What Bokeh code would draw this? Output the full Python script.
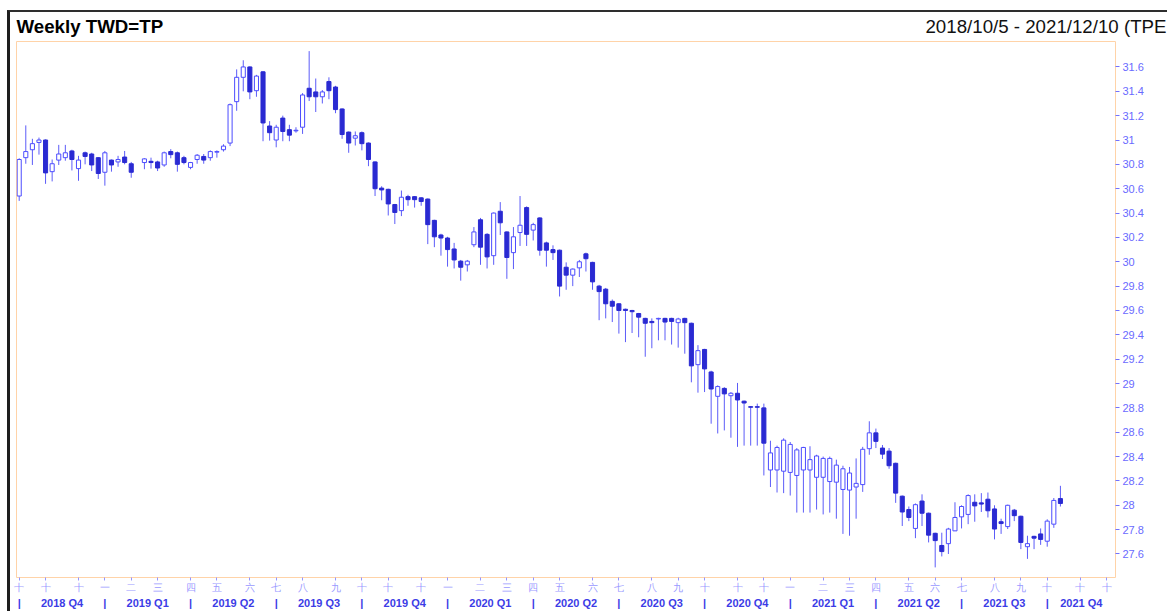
import pandas as pd
from bokeh.plotting import figure
from bokeh.layouts import column
from bokeh.models import Range1d, LinearAxis, FixedTicker, ColumnDataSource
from bokeh.core.properties import value
from bokeh.embed import file_html
from bokeh.resources import INLINE

# ---------------- data ----------------
START = "2018-10-05"
END_DATA = "2021-10-15"
END_RANGE = "2021-12-10"
HOLIDAY_WEEKS = ["2019-02-08"]

opens = [30.54, 30.855, 30.92, 30.98, 31.00, 30.74, 30.835, 30.855, 30.91, 30.765,
         30.895, 30.885, 30.855, 30.735, 30.835, 30.82, 30.86, 30.805,
         30.815, 30.825, 30.82, 30.795, 30.905, 30.895, 30.855, 30.775, 30.84, 30.865,
         30.855, 30.90, 30.92, 30.975, 31.315, 31.515, 31.60, 31.405, 31.56, 31.115,
         31.00, 31.18, 31.085, 31.075, 31.105, 31.425, 31.395, 31.355, 31.48, 31.435,
         31.255, 31.065, 31.015, 31.06, 30.975, 30.82, 30.605, 30.595, 30.47, 30.42,
         30.535, 30.535, 30.525, 30.515, 30.34, 30.22, 30.195, 30.105, 30.005, 29.975,
         30.14, 30.345, 30.225, 30.05, 30.415, 30.245, 30.075, 30.24, 30.445, 30.26,
         30.36, 30.155, 30.10, 30.095, 29.955, 29.89, 29.95, 30.065, 29.995, 29.80,
         29.775, 29.675, 29.655, 29.61, 29.60, 29.575, 29.535, 29.51, 29.53, 29.535,
         29.535, 29.50, 29.535, 29.495, 29.155, 29.28, 29.095, 28.895, 28.96, 28.90,
         28.92, 28.855, 28.81, 28.81, 28.80, 28.29, 28.29, 28.28, 28.27, 28.245,
         28.29, 28.29, 28.23, 28.23, 28.195, 28.19, 28.13, 28.125, 28.15, 28.17,
         28.465, 28.595, 28.47, 28.445, 28.345, 28.075, 27.965, 27.81, 28.035, 27.935,
         27.77, 27.67, 27.685, 27.79, 27.905, 27.925, 28.025, 28.02, 28.05, 27.97,
         27.865, 27.825, 27.96, 27.91, 27.66, 27.745, 27.765, 27.705, 27.845, 28.055]
highs = [30.85, 31.12, 31.01, 31.02, 31.005, 30.84, 30.96, 30.96, 30.92, 30.87,
         30.905, 30.895, 30.86, 30.91, 30.84, 30.87, 30.91, 30.82,
         30.85, 30.855, 30.83, 30.905, 30.925, 30.905, 30.87, 30.82, 30.885, 30.885,
         30.915, 30.915, 30.965, 31.30, 31.58, 31.655, 31.605, 31.535, 31.565, 31.155,
         31.125, 31.20, 31.125, 31.105, 31.385, 31.73, 31.505, 31.41, 31.515, 31.445,
         31.26, 31.07, 31.07, 31.07, 30.98, 30.825, 30.62, 30.60, 30.475, 30.585,
         30.55, 30.54, 30.53, 30.52, 30.345, 30.23, 30.205, 30.155, 30.015, 30.015,
         30.285, 30.36, 30.235, 30.405, 30.49, 30.25, 30.285, 30.54, 30.455, 30.32,
         30.365, 30.165, 30.135, 30.10, 29.995, 29.945, 30.015, 30.075, 30.00, 29.81,
         29.785, 29.69, 29.66, 29.615, 29.605, 29.58, 29.54, 29.535, 29.54, 29.54,
         29.54, 29.54, 29.54, 29.50, 29.315, 29.285, 29.105, 28.985, 28.97, 28.93,
         29.005, 28.86, 28.815, 28.835, 28.835, 28.53, 28.49, 28.55, 28.52, 28.47,
         28.48, 28.485, 28.415, 28.40, 28.40, 28.375, 28.325, 28.315, 28.385, 28.48,
         28.69, 28.63, 28.495, 28.47, 28.35, 28.08, 27.99, 28.015, 28.09, 27.94,
         27.775, 27.775, 27.815, 28.025, 28.00, 28.09, 28.09, 28.10, 28.105, 28.00,
         27.89, 28.005, 27.97, 27.915, 27.75, 27.75, 27.81, 27.885, 28.06, 28.16]
lows = [30.50, 30.805, 30.795, 30.88, 30.64, 30.66, 30.795, 30.83, 30.75, 30.665,
        30.80, 30.745, 30.68, 30.625, 30.74, 30.78, 30.80, 30.69,
        30.76, 30.765, 30.745, 30.78, 30.85, 30.74, 30.80, 30.76, 30.805, 30.805,
        30.83, 30.855, 30.905, 30.95, 31.24, 31.40, 31.335, 31.355, 30.99, 30.995,
        30.94, 30.99, 30.99, 31.06, 31.05, 31.32, 31.23, 31.30, 31.335, 31.22,
        31.01, 30.895, 30.955, 30.915, 30.785, 30.54, 30.505, 30.38, 30.31, 30.375,
        30.46, 30.445, 30.46, 30.145, 30.12, 30.05, 29.96, 29.945, 29.845, 29.92,
        30.12, 29.975, 29.945, 29.975, 30.22, 29.86, 29.94, 30.13, 30.13, 30.175,
        30.05, 29.96, 30.015, 29.715, 29.77, 29.80, 29.875, 29.92, 29.77, 29.52,
        29.535, 29.505, 29.41, 29.34, 29.415, 29.38, 29.22, 29.29, 29.355, 29.355,
        29.32, 29.295, 29.245, 29.01, 28.925, 28.93, 28.67, 28.59, 28.615, 28.555,
        28.48, 28.49, 28.49, 28.49, 28.245, 28.15, 28.105, 28.10, 28.08, 27.94,
        27.94, 27.94, 27.965, 27.925, 27.94, 27.89, 27.765, 27.75, 27.89, 28.11,
        28.415, 28.47, 28.38, 28.30, 28.02, 27.83, 27.87, 27.73, 27.83, 27.695,
        27.49, 27.58, 27.60, 27.79, 27.81, 27.845, 27.865, 27.945, 27.90, 27.72,
        27.765, 27.805, 27.87, 27.64, 27.56, 27.64, 27.675, 27.66, 27.815, 27.99]
closes = [30.84, 30.905, 30.97, 31.00, 30.73, 30.805, 30.885, 30.895, 30.84, 30.835,
          30.865, 30.795, 30.725, 30.895, 30.795, 30.84, 30.815, 30.735,
          30.845, 30.815, 30.77, 30.895, 30.88, 30.80, 30.815, 30.815, 30.875, 30.835,
          30.905, 30.905, 30.95, 31.29, 31.515, 31.60, 31.395, 31.525, 31.14, 31.06,
          31.105, 31.07, 31.04, 31.08, 31.37, 31.355, 31.355, 31.395, 31.405, 31.25,
          31.045, 30.975, 31.035, 30.97, 30.84, 30.60, 30.59, 30.475, 30.405, 30.53,
          30.51, 30.51, 30.495, 30.305, 30.205, 30.195, 30.10, 30.015, 29.955, 30.005,
          30.245, 30.12, 30.04, 30.40, 30.32, 30.035, 30.205, 30.30, 30.225, 30.305,
          30.095, 30.095, 30.075, 29.80, 29.89, 29.94, 30.00, 30.025, 29.835, 29.755,
          29.655, 29.635, 29.60, 29.60, 29.59, 29.545, 29.495, 29.50, 29.535, 29.505,
          29.51, 29.53, 29.50, 29.145, 29.27, 29.12, 28.955, 28.975, 28.915, 28.92,
          28.865, 28.84, 28.805, 28.805, 28.51, 28.43, 28.475, 28.535, 28.50, 28.455,
          28.475, 28.375, 28.405, 28.385, 28.385, 28.33, 28.30, 28.265, 28.18, 28.46,
          28.595, 28.525, 28.42, 28.325, 28.10, 27.945, 27.90, 28.005, 27.935, 27.755,
          27.71, 27.62, 27.805, 27.90, 27.99, 28.08, 27.995, 28.01, 27.955, 27.805,
          27.85, 28.00, 27.915, 27.695, 27.685, 27.73, 27.72, 27.87, 28.04, 28.015]

MONTH_CHARS = ["一", "二", "三", "四", "五", "六", "七", "八", "九", "十", "十", "十"]
QUARTER_LABELS = ["2018 Q4", "2019 Q1", "2019 Q2", "2019 Q3", "2019 Q4",
                  "2020 Q1", "2020 Q2", "2020 Q3", "2020 Q4",
                  "2021 Q1", "2021 Q2", "2021 Q3", "2021 Q4"]
QUARTER_SEP = "|"
Y_TICKS = [27.6, 27.8, 28.0, 28.2, 28.4, 28.6, 28.8, 29.0, 29.2, 29.4, 29.6,
           29.8, 30.0, 30.2, 30.4, 30.6, 30.8, 31.0, 31.2, 31.4, 31.6]
Y_TICK_LABELS = ["27.6", "27.8", "28", "28.2", "28.4", "28.6", "28.8", "29", "29.2", "29.4", "29.6",
                 "29.8", "30", "30.2", "30.4", "30.6", "30.8", "31", "31.2", "31.4", "31.6"]
TITLE = "Weekly TWD=TP"
RANGE_TEXT = "2018/10/5 - 2021/12/10 (TPE"

# ---------------- derived positions (week index) ----------------
start = pd.Timestamp(START)
holidays = set(pd.to_datetime(HOLIDAY_WEEKS))
weeks = [d for d in pd.date_range(START, END_DATA, freq="W-FRI") if d not in holidays]
xs = [(d - start).days / 7.0 for d in weeks]

all_weeks = pd.date_range(START, END_RANGE, freq="W-FRI")
month_ticks, month_labels, quarter_starts, seen = [], [], [], set()
for d in all_weeks:
    key = (d.year, d.month)
    if key not in seen:
        seen.add(key)
        t = (d - start).days // 7
        month_ticks.append(t)
        month_labels.append(MONTH_CHARS[d.month - 1])
        if d.month in (1, 4, 7, 10):
            quarter_starts.append(t)

X0, X1 = -0.41, 166.36
Y0, Y1 = 27.407, 31.809
bounds = quarter_starts + [X1]
quarter_mids = [(bounds[i] + bounds[i + 1]) / 2.0 for i in range(len(quarter_starts))]

up = [i for i in range(len(xs)) if closes[i] >= opens[i]]
dn = [i for i in range(len(xs)) if closes[i] < opens[i]]

src = ColumnDataSource(dict(x=xs, o=opens, h=highs, l=lows, c=closes))
src_up = ColumnDataSource(dict(x=[xs[i] for i in up], o=[opens[i] for i in up], c=[closes[i] for i in up]))
src_dn = ColumnDataSource(dict(x=[xs[i] for i in dn], o=[opens[i] for i in dn], c=[closes[i] for i in dn]))

W = 1157
HEAD_H = 28
MAIN_H = 571

# ---------------- header ----------------
head = figure(width=W, height=HEAD_H, output_backend="svg", toolbar_location=None,
              x_range=Range1d(0, W), y_range=Range1d(HEAD_H, 0),
              x_axis_type=None, y_axis_type=None,
              min_border_left=0, min_border_right=0, min_border_top=0, min_border_bottom=0,
              outline_line_color=None, background_fill_color="white", border_fill_color="white")
head.frame_align = False
head.grid.visible = False
HEAD_BASE = 14.3
head.text(x=[6], y=[HEAD_BASE], text=[TITLE], text_font=value("Liberation Sans"),
          text_font_size="18.7px", text_font_style="bold", text_color="black",
          text_baseline="alphabetic", text_align="left")
head.text(x=[W - 1], y=[HEAD_BASE], text=[RANGE_TEXT], text_font=value("Liberation Sans"),
          text_font_size="18.7px", text_color="#111111",
          text_baseline="alphabetic", text_align="right")

# ---------------- main chart ----------------
p = figure(width=W, height=MAIN_H, output_backend="svg", toolbar_location=None,
           x_range=Range1d(X0, X1), y_range=Range1d(Y0, Y1), y_axis_location="right",
           min_border_left=6, min_border_right=52, min_border_top=1, min_border_bottom=29,
           background_fill_color="white", border_fill_color="white",
           outline_line_color="#ffd3a8", outline_line_width=1)
p.frame_align = False
p.grid.visible = False

WICK = "#5c5cf8"
p.segment(x0="x", y0="l", x1="x", y1="h", source=src, line_color=WICK, line_width=1)
p.vbar(x="x", width=0.62, top="o", bottom="c", source=src_dn,
       fill_color="#2a2ad2", line_color="#2a2ad2", line_width=1)
p.vbar(x="x", width=0.62, top="c", bottom="o", source=src_up,
       fill_color="white", line_color="#4c4cff", line_width=1)

# month axis
xa = p.xaxis[0]
xa.ticker = FixedTicker(ticks=month_ticks)
xa.major_label_overrides = {t: lab for t, lab in zip(month_ticks, month_labels)}
xa.axis_line_color = None
xa.major_tick_out = 3
xa.major_tick_in = 0
xa.major_tick_line_color = "#9494ff"
xa.minor_tick_line_color = None
xa.major_label_text_color = "#9a9aff"
xa.major_label_text_font = "Liberation Sans"
xa.major_label_text_font_size = "10px"
xa.major_label_standoff = 1

# quarter axis (labels at quarter middles, "|" separators at quarter starts)
q_ticks = quarter_mids + quarter_starts
q_over = {t: lab for t, lab in zip(quarter_mids, QUARTER_LABELS)}
q_over.update({t: QUARTER_SEP for t in quarter_starts})
qa = LinearAxis(ticker=FixedTicker(ticks=q_ticks))
qa.major_label_overrides = q_over
qa.axis_line_color = None
qa.major_tick_line_color = None
qa.minor_tick_line_color = None
qa.major_tick_out = 0
qa.major_tick_in = 0
qa.minor_tick_out = 0
qa.minor_tick_in = 0
qa.major_label_text_color = "#3c3ce6"
qa.major_label_text_font = "Liberation Sans"
qa.major_label_text_font_style = "bold"
qa.major_label_text_font_size = "11px"
qa.major_label_standoff = 1
p.add_layout(qa, "below")

# price axis
ya = p.yaxis[0]
ya.ticker = FixedTicker(ticks=Y_TICKS)
ya.major_label_overrides = {v: lab for v, lab in zip(Y_TICKS, Y_TICK_LABELS)}
ya.axis_line_color = None
ya.major_tick_out = 4
ya.major_tick_in = 0
ya.major_tick_line_color = "#7272ff"
ya.minor_tick_line_color = None
ya.major_label_text_color = "#6a6aff"
ya.major_label_text_font = "Liberation Sans"
ya.major_label_text_font_size = "11px"
ya.major_label_standoff = 3

layout = column(head, p, spacing=0)
layout.styles = {"margin-left": "7px", "margin-top": "10px",
                 "border-left": "3px solid #1e1e1e", "border-top": "2px solid #2e2e2e"}

open("out.html", "w").write(file_html(layout, INLINE))
